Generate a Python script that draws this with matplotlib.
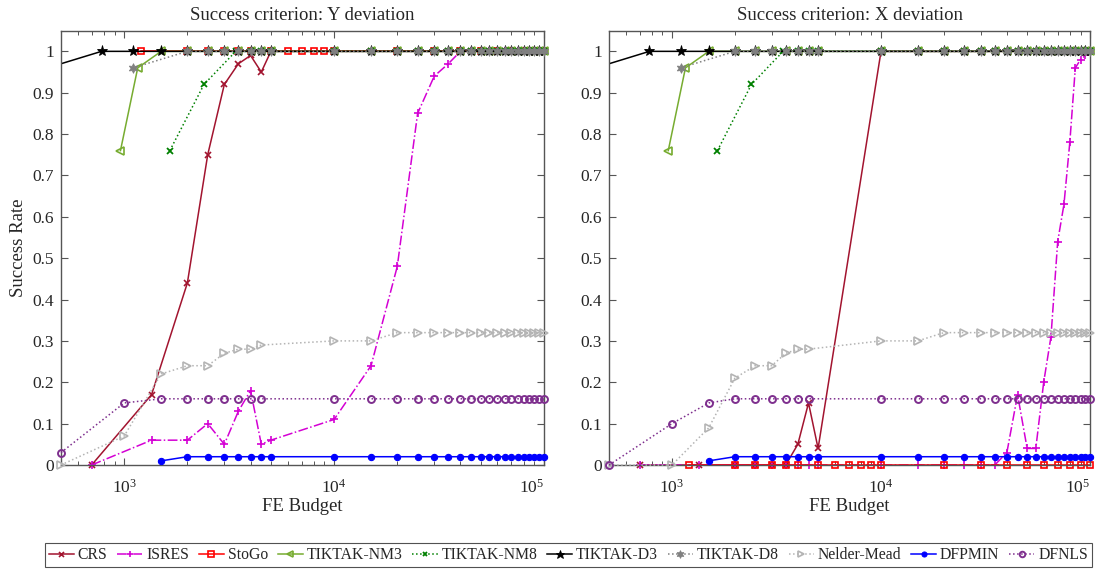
import matplotlib
matplotlib.use("Agg")
import matplotlib.pyplot as plt
from matplotlib.ticker import LogLocator, FixedLocator, FixedFormatter, NullFormatter
from matplotlib.lines import Line2D

plt.rcParams['font.family'] = ['Liberation Serif', 'DejaVu Serif']
plt.rcParams['mathtext.fontset'] = 'custom'
plt.rcParams['mathtext.rm'] = 'Liberation Serif'
plt.rcParams['mathtext.it'] = 'Liberation Serif:italic'

# ---------------- data ----------------
titles = ["Success criterion: Y deviation", "Success criterion: X deviation"]
algorithms = ["CRS", "ISRES", "StoGo", "TIKTAK-NM3", "TIKTAK-NM8",
              "TIKTAK-D3", "TIKTAK-D8", "Nelder-Mead", "DFPMIN", "DFNLS"]

tail_budget = [10000, 15000, 20000, 25000, 30000, 35000, 40000, 45000, 50000, 55000,
               60000, 65000, 70000, 75000, 80000, 85000, 90000, 95000, 100000]
tail_ones = [1, 1, 1, 1, 1, 1, 1, 1, 1, 1, 1, 1, 1, 1, 1, 1, 1, 1, 1]

crs_x = [700, 1350, 2000, 2500, 3000, 3500, 4000, 4500, 5000] + tail_budget
crs_y_Y = [0, 0.17, 0.44, 0.75, 0.92, 0.97, 0.99, 0.95, 1.0] + tail_ones
crs_y_X = [0, 0, 0, 0, 0, 0, 0.05, 0.15, 0.04] + tail_ones

isres_x = [700, 1350, 2000, 2500, 3000, 3500, 4000, 4500, 5000] + tail_budget
isres_y_Y = [0, 0.06, 0.06, 0.10, 0.05, 0.13, 0.18, 0.05, 0.06,
             0.11, 0.24, 0.48, 0.85, 0.94, 0.97, 1, 1, 1, 1,
             1, 1, 1, 1, 1, 1, 1, 1, 1]
isres_y_X = [0, 0, 0, 0, 0, 0, 0, 0, 0,
             0, 0, 0, 0, 0, 0, 0.03, 0.17, 0.04, 0.04,
             0.20, 0.31, 0.54, 0.63, 0.78, 0.96, 0.98, 0.99, 1.0]

stogo_x = [1200, 2000, 2500, 3000, 3500, 4000, 5000, 6000, 7000, 8000, 9000, 10000,
           20000, 30000, 40000, 50000, 60000, 70000, 80000, 90000, 100000]
stogo_y_Y = [1, 1, 1, 1, 1, 1, 1, 1, 1, 1, 1, 1, 1, 1, 1, 1, 1, 1, 1, 1, 1]
stogo_y_X = [0, 0, 0, 0, 0, 0, 0, 0, 0, 0, 0, 0, 0, 0, 0, 0, 0, 0, 0, 0, 0]

nm3_x = [960, 1160, 1500, 2000, 2500, 3000, 3500, 4000, 4500, 5000] + tail_budget
nm3_y = [0.76, 0.96, 1, 1, 1, 1, 1, 1, 1, 1] + tail_ones

nm8_x = [1650, 2400, 3400, 4000, 4500, 5000] + tail_budget
nm8_y = [0.76, 0.92, 1, 1, 1, 1] + tail_ones

d3_x = [400, 780, 1100, 1500, 2000, 2500, 3000, 3500, 4000, 4500, 5000] + tail_budget
d3_y = [0.955, 1, 1, 1, 1, 1, 1, 1, 1, 1, 1] + tail_ones

d8_x = [1100, 2000, 2500, 3000, 3500, 4000, 4500, 5000] + tail_budget
d8_y = [0.96, 1, 1, 1, 1, 1, 1, 1] + tail_ones

nmead_x = [500, 1000, 1500, 2000, 2500, 3000, 3500, 4000, 4500] + tail_budget
nmead_y_Y = [0, 0.07, 0.22, 0.24, 0.24, 0.27, 0.28, 0.28, 0.29,
             0.30, 0.30, 0.32, 0.32, 0.32, 0.32, 0.32, 0.32, 0.32, 0.32,
             0.32, 0.32, 0.32, 0.32, 0.32, 0.32, 0.32, 0.32, 0.32]
nmead_y_X = [0, 0, 0.09, 0.21, 0.24, 0.24, 0.27, 0.28, 0.28,
             0.30, 0.30, 0.32, 0.32, 0.32, 0.32, 0.32, 0.32, 0.32, 0.32,
             0.32, 0.32, 0.32, 0.32, 0.32, 0.32, 0.32, 0.32, 0.32]

dfpmin_x = [1500, 2000, 2500, 3000, 3500, 4000, 4500, 5000] + tail_budget
dfpmin_y = [0.01, 0.02, 0.02, 0.02, 0.02, 0.02, 0.02, 0.02,
            0.02, 0.02, 0.02, 0.02, 0.02, 0.02, 0.02, 0.02, 0.02, 0.02,
            0.02, 0.02, 0.02, 0.02, 0.02, 0.02, 0.02, 0.02, 0.02]

dfnls_x = [500, 1000, 1500, 2000, 2500, 3000, 3500, 4000, 4500] + tail_budget
dfnls_y_Y = [0.03, 0.15, 0.16, 0.16, 0.16, 0.16, 0.16, 0.16, 0.16,
             0.16, 0.16, 0.16, 0.16, 0.16, 0.16, 0.16, 0.16, 0.16, 0.16,
             0.16, 0.16, 0.16, 0.16, 0.16, 0.16, 0.16, 0.16, 0.16]
dfnls_y_X = [0, 0.10, 0.15, 0.16, 0.16, 0.16, 0.16, 0.16, 0.16,
             0.16, 0.16, 0.16, 0.16, 0.16, 0.16, 0.16, 0.16, 0.16, 0.16,
             0.16, 0.16, 0.16, 0.16, 0.16, 0.16, 0.16, 0.16, 0.16]

panel_data = [
    [(crs_x, crs_y_Y), (isres_x, isres_y_Y), (stogo_x, stogo_y_Y), (nm3_x, nm3_y),
     (nm8_x, nm8_y), (d3_x, d3_y), (d8_x, d8_y), (nmead_x, nmead_y_Y),
     (dfpmin_x, dfpmin_y), (dfnls_x, dfnls_y_Y)],
    [(crs_x, crs_y_X), (isres_x, isres_y_X), (stogo_x, stogo_y_X), (nm3_x, nm3_y),
     (nm8_x, nm8_y), (d3_x, d3_y), (d8_x, d8_y), (nmead_x, nmead_y_X),
     (dfpmin_x, dfpmin_y), (dfnls_x, dfnls_y_X)],
]

y_ticks = [0, 0.1, 0.2, 0.3, 0.4, 0.5, 0.6, 0.7, 0.8, 0.9, 1]
y_tick_labels = ["0", "0.1", "0.2", "0.3", "0.4", "0.5", "0.6", "0.7", "0.8", "0.9", "1"]
x_ticks = [1e3, 1e4, 1e5]
x_tick_labels = [r"$10^{3}$", r"$10^{4}$", r"$10^{5}$"]

# ---------------- styles ----------------
styles = [
    dict(color="#A2142F", ls="-", marker="x", ms=4.5, mfc="none", mew=1.2),
    dict(color="#D400D4", ls="-.", marker="+", ms=6, mfc="none", mew=1.2),
    dict(color="#FF0000", ls="-", marker="s", ms=5, mfc="none", mew=1.2),
    dict(color="#77AC30", ls="-", marker="<", ms=6, mfc="none", mew=1.2),
    dict(color="#008000", ls=":", marker="x", ms=4, mfc="none", mew=1.3),
    dict(color="#000000", ls="-", marker="*", ms=8, mfc="#000000", mew=0.6),
    dict(color="#808080", ls=":", marker=(6, 1, 0), ms=7, mfc="#808080", mew=0.6),
    dict(color="#B4B4B4", ls=":", marker=">", ms=6, mfc="none", mew=1.2),
    dict(color="#0000FF", ls="-", marker="o", ms=4.5, mfc="#0000FF", mew=0.8),
    dict(color="#7E2F8E", ls=":", marker="o", ms=5, mfc="none", mew=1.4),
]

axis_color = "#555555"
text_color = "#262626"

fig = plt.figure(figsize=(10.95, 5.69), dpi=100)
ax_pos = [[0.0557, 0.1828, 0.4411, 0.7633], [0.5562, 0.1828, 0.4393, 0.7633]]

for p in range(2):
    ax = fig.add_axes(ax_pos[p])
    for i, (xs, ys) in enumerate(panel_data[p]):
        st = styles[i]
        clip = (xs[0] < 500)
        ax.plot(xs, ys, color=st["color"], linestyle=st["ls"], lw=1.1,
                marker=st["marker"], markersize=st["ms"], markerfacecolor=st["mfc"],
                markeredgecolor=st["color"], markeredgewidth=st["mew"],
                clip_on=clip, zorder=2 + i * 0.1)
    ax.set_xscale("log")
    ax.set_xlim(500, 100000)
    ax.set_ylim(0, 1.05)
    ax.xaxis.set_major_locator(FixedLocator(x_ticks))
    ax.xaxis.set_major_formatter(FixedFormatter(x_tick_labels))
    ax.xaxis.set_minor_locator(LogLocator(base=10, subs=(2, 3, 4, 5, 6, 7, 8, 9), numticks=20))
    ax.xaxis.set_minor_formatter(NullFormatter())
    ax.yaxis.set_major_locator(FixedLocator(y_ticks))
    ax.yaxis.set_major_formatter(FixedFormatter(y_tick_labels))
    ax.tick_params(axis="both", which="both", direction="in", top=True, right=True,
                   color=axis_color, labelcolor=text_color, labelsize=12.5)
    ax.tick_params(axis="both", which="major", length=5, width=0.8)
    ax.tick_params(axis="x", which="minor", length=3, width=0.7)
    ax.tick_params(axis="y", which="major", pad=5)
    ax.tick_params(axis="x", which="major", pad=10)
    for s in ax.spines.values():
        s.set_color(axis_color)
        s.set_linewidth(1.0)
    ax.set_title(titles[p], fontsize=13.5, color=text_color, pad=8)
    ax.set_xlabel("FE Budget", fontsize=13.5, color=text_color, labelpad=1)
    if p == 0:
        ax.set_ylabel("Success Rate", fontsize=13.5, color=text_color, labelpad=4)
    fig.canvas.draw()
    ax.get_xticklabels()[-1].set_horizontalalignment("right")

handles = []
for i, name in enumerate(algorithms):
    st = styles[i]
    handles.append(Line2D([], [], color=st["color"], linestyle=st["ls"], lw=1.1,
                          marker=st["marker"], markersize=st["ms"] * 0.8,
                          markerfacecolor=st["mfc"], markeredgecolor=st["color"],
                          markeredgewidth=st["mew"]))
leg = fig.legend(handles, algorithms, loc="center", bbox_to_anchor=(0.519, 0.0246),
                 ncol=10, frameon=True, fancybox=False, fontsize=11.3,
                 handlelength=1.6, handletextpad=0.25, columnspacing=0.62,
                 borderpad=0.25, borderaxespad=0)
leg.get_frame().set_edgecolor("#262626")
leg.get_frame().set_linewidth(0.8)
for t in leg.get_texts():
    t.set_color(text_color)

fig.savefig("out.png", dpi=100)
